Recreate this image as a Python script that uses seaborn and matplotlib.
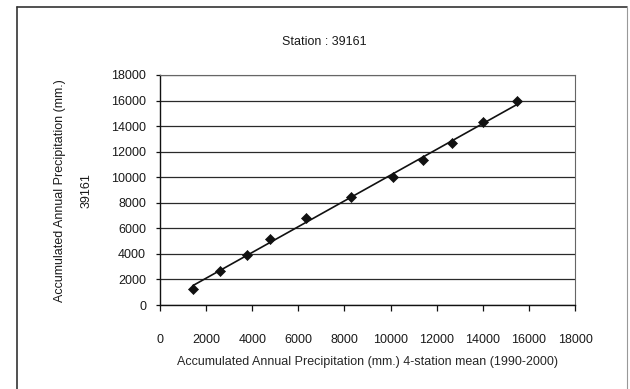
import numpy as np
import pandas as pd
import matplotlib.pyplot as plt
import seaborn as sns
from matplotlib.lines import Line2D

# accumulated annual precipitation (mm.)
mean_4station = [1420, 2600, 3780, 4790, 6340, 8270, 10090, 11410, 12650, 14020, 15490]
station_39161 = [1260, 2690, 3950, 5180, 6800, 8420, 10020, 11330, 12640, 14290, 15930]
tick_values = list(range(0, 18001, 2000))

df = pd.DataFrame({"x": mean_4station, "y": station_39161})

# linear trend line (like Excel's), drawn over the data range
slope, intercept = np.polyfit(df["x"], df["y"], 1)
trend = pd.DataFrame({"x": [df["x"].min(), df["x"].max()]})
trend["y"] = slope * trend["x"] + intercept

sns.set_theme(style="white")
plt.rcParams['font.family'] = ['Liberation Sans', 'DejaVu Sans']
plt.rcParams['text.color'] = '#1a1a1a'

FS = 9

fig = plt.figure(figsize=(6.3, 3.89), dpi=100)
fig.patch.set_facecolor('white')
ax = fig.add_axes([0.254, 0.2159, 0.6587, 0.5913])

sns.lineplot(data=trend, x="x", y="y", color='#111111', linewidth=1.2, ax=ax)
sns.scatterplot(data=df, x="x", y="y", marker='D', s=26, color='#111111',
                edgecolor='#111111', linewidth=0.5, ax=ax, zorder=3)

ax.set_xlim(0, 18000)
ax.set_ylim(0, 18000)
ax.set_xticks(tick_values)
ax.set_yticks(tick_values)
ax.set_xticklabels([str(v) for v in tick_values])
ax.set_yticklabels([str(v) for v in tick_values])

ax.yaxis.grid(True, color='#2a2a2a', linewidth=0.9)
ax.xaxis.grid(False)
ax.set_axisbelow(True)

for side in ['left', 'bottom']:
    ax.spines[side].set_color('#111111')
    ax.spines[side].set_linewidth(1.0)
for side in ['top', 'right']:
    ax.spines[side].set_color('#666666')
    ax.spines[side].set_linewidth(0.8)

ax.tick_params(axis='x', direction='out', length=4, width=0.9, color='#111111',
               pad=17, labelsize=FS, labelcolor='#1a1a1a', bottom=True)
ax.tick_params(axis='y', direction='out', length=3, width=0.9, color='#111111',
               pad=7, labelsize=FS, labelcolor='#1a1a1a', left=True)

ax.set_ylabel('')
ax.set_xlabel('Accumulated Annual Precipitation (mm.) 4-station mean (1990-2000)',
              fontsize=FS, va='center')
ax.xaxis.set_label_coords(0.5, -0.248)

fig.text(0.514, 0.892, 'Station : 39161', ha='center', va='center', fontsize=FS)
fig.text(60 / 630, 0.511, 'Accumulated Annual Precipitation (mm.)', rotation=90,
         ha='center', va='center', fontsize=FS)
fig.text(87 / 630, 0.511, '39161', rotation=90, ha='center', va='center', fontsize=FS)

# outer chart frame (bottom edge falls outside the picture)
fig.add_artist(Line2D([17 / 630, 17 / 630], [0, 382 / 389], transform=fig.transFigure,
                      color='#333333', linewidth=1.2))
fig.add_artist(Line2D([17 / 630, 627 / 630], [382 / 389, 382 / 389], transform=fig.transFigure,
                      color='#333333', linewidth=1.2))
fig.add_artist(Line2D([627 / 630, 627 / 630], [0, 382 / 389], transform=fig.transFigure,
                      color='#999999', linewidth=0.8))

fig.savefig('out.png', dpi=100, facecolor='white')
